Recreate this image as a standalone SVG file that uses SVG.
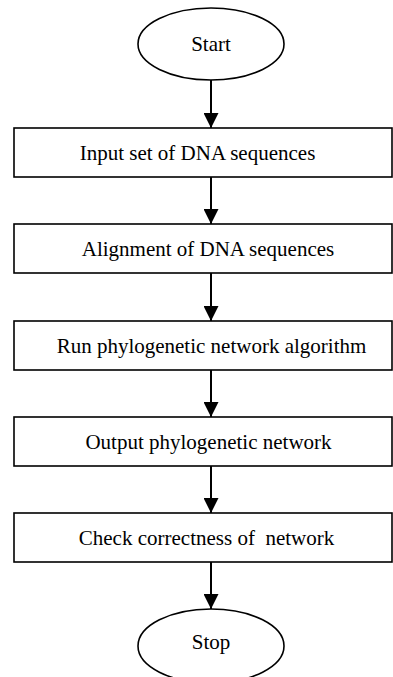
<svg xmlns="http://www.w3.org/2000/svg" width="393" height="677" viewBox="0 0 393 677">
  <style>
    .shape { fill: #ffffff; stroke: #000000; stroke-width: 1.6; }
    .label { font-family: "Liberation Serif", "Times New Roman", serif; font-size: 21px; fill: #000000; text-anchor: middle; }
    .flow { stroke: #000000; stroke-width: 2; fill: none; marker-end: url(#arrow); }
  </style>
  <defs>
    <marker id="arrow" markerUnits="userSpaceOnUse" markerWidth="16" markerHeight="15" refX="16" refY="8" orient="auto" viewBox="0 0 16 16">
      <path d="M0,0 L16,8 L0,16 Z" fill="#000000"/>
    </marker>
  </defs>
  <rect width="393" height="677" fill="#ffffff"/>

  <g id="connectors">
    <line class="flow" x1="211" y1="80" x2="211" y2="128"/>
    <line class="flow" x1="211" y1="177" x2="211" y2="224"/>
    <line class="flow" x1="211" y1="273" x2="211" y2="321"/>
    <line class="flow" x1="211" y1="370" x2="211" y2="417"/>
    <line class="flow" x1="211" y1="466" x2="211" y2="513"/>
    <line class="flow" x1="211" y1="562" x2="211" y2="609"/>
  </g>

  <g id="start">
    <ellipse class="shape" cx="211" cy="44" rx="73" ry="36"/>
    <text class="label" x="211" y="51">Start</text>
  </g>

  <g id="input">
    <rect class="shape" x="14" y="128" width="378" height="49"/>
    <text class="label" x="197.5" y="160">Input set of DNA sequences</text>
  </g>

  <g id="alignment">
    <rect class="shape" x="14" y="224" width="378" height="49"/>
    <text class="label" x="208" y="256">Alignment of DNA sequences</text>
  </g>

  <g id="run">
    <rect class="shape" x="14" y="321" width="378" height="49"/>
    <text class="label" x="211.5" y="353">Run phylogenetic network algorithm</text>
  </g>

  <g id="output">
    <rect class="shape" x="14" y="417" width="378" height="49"/>
    <text class="label" x="208.5" y="449">Output phylogenetic network</text>
  </g>

  <g id="check">
    <rect class="shape" x="14" y="513" width="378" height="49"/>
    <text class="label" x="206.5" y="545" xml:space="preserve">Check correctness of  network</text>
  </g>

  <g id="stop">
    <ellipse class="shape" cx="211" cy="646" rx="73" ry="37"/>
    <text class="label" x="211" y="649">Stop</text>
  </g>
</svg>
